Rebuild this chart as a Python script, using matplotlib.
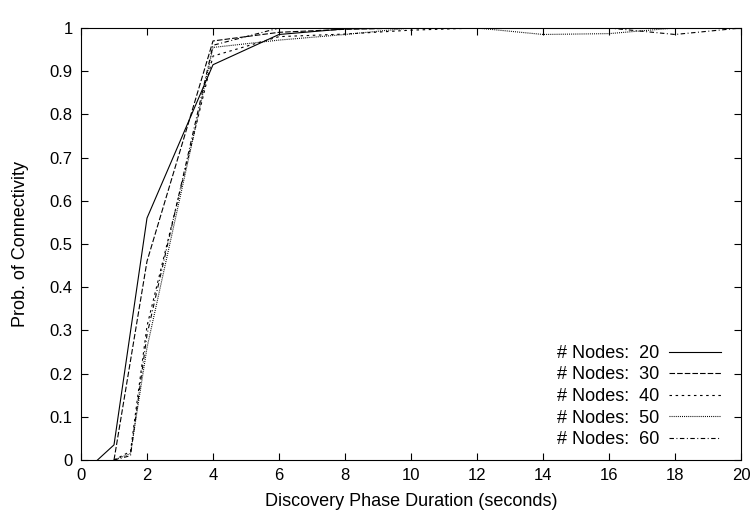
import matplotlib
matplotlib.use("Agg")
import matplotlib.pyplot as plt
import matplotlib.ticker as mticker

plt.rcParams["font.family"] = ["Liberation Sans", "DejaVu Sans"]
plt.rcParams["lines.scale_dashes"] = False

# -- data --
x20 = [0.5, 1, 2, 4, 6, 8, 10, 12, 14, 16, 18, 20]
p20 = [0, 0.035, 0.56, 0.915, 0.985, 0.998, 1, 1, 1, 1, 1, 1]

x30 = [1, 2, 4, 6, 8, 10, 12, 14, 16, 18, 20]
p30 = [0, 0.46, 0.97, 0.99, 0.997, 1, 1, 1, 1, 1, 1]

x_rest = [1, 1.5, 2, 4, 6, 8, 10, 12, 14, 16, 18, 20]
p40 = [0, 0.02, 0.31, 0.935, 0.98, 0.986, 0.995, 1, 1, 1, 1, 1]
p50 = [0, 0.015, 0.26, 0.955, 0.972, 0.985, 1, 1, 0.985, 0.987, 1, 1]
p60 = [0, 0.01, 0.29, 0.96, 1.0, 1, 1, 1, 1, 1, 0.985, 1]

labels = ["# Nodes:  20", "# Nodes:  30", "# Nodes:  40", "# Nodes:  50", "# Nodes:  60"]

FS = 13

fig = plt.figure(figsize=(7.56, 5.14), dpi=100)
ax = fig.add_axes([81 / 756, 1 - 460 / 514, 660 / 756, 432 / 514])

lw = 0.8
ax.plot(x20, p20, color="black", lw=lw, linestyle="-", label=labels[0])
ax.plot(x30, p30, color="black", lw=lw, dashes=(4.0, 1.5), label=labels[1])
ax.plot(x_rest, p40, color="black", lw=lw, dashes=(1.8, 2.6), label=labels[2])
ax.plot(x_rest, p50, color="black", lw=lw, dashes=(0.7, 0.8), label=labels[3])
ax.plot(x_rest, p60, color="black", lw=lw, dashes=(3.2, 1.8, 0.7, 1.8), label=labels[4])

ax.set_xlim(0, 20)
ax.set_ylim(0, 1)
ax.set_xticks(range(0, 21, 2))
ax.set_yticks([i / 10 for i in range(11)])
ax.yaxis.set_major_formatter(mticker.FuncFormatter(lambda v, _: f"{v:g}"))
ax.tick_params(direction="in", top=True, right=True, length=5, width=0.8,
               labelsize=12, pad=6)
for s in ax.spines.values():
    s.set_linewidth(0.8)

ax.set_xlabel("Discovery Phase Duration (seconds)", fontsize=FS, labelpad=7)
ax.set_ylabel("Prob. of Connectivity", fontsize=FS, labelpad=15)

ax.legend(loc="lower right", bbox_to_anchor=(0.981, 0.011), frameon=False,
          markerfirst=False, fontsize=FS, handlelength=2.9, labelspacing=0.25,
          handletextpad=0.55, borderaxespad=0, borderpad=0.4)

fig.savefig("out.png", dpi=100)
